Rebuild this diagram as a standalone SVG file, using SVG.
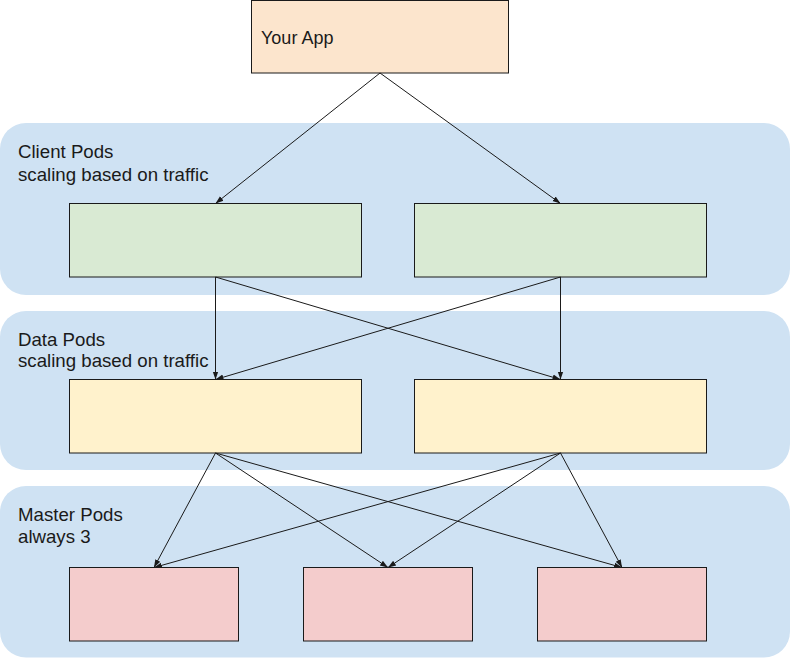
<svg xmlns="http://www.w3.org/2000/svg" width="790" height="663" viewBox="0 0 790 663">
<style>
.panel{fill:#cfe2f3;stroke:none}
.box{stroke:#1a1a1a;stroke-width:1}
.lbl{font-family:"Liberation Sans",Arial,sans-serif;font-size:18.67px;fill:#1a1a1a}
.edge{stroke:#1a1a1a;stroke-width:1;fill:none;marker-end:url(#ah)}
</style>
<defs>
<marker id="ah" viewBox="0 0 10 10" refX="10" refY="5" markerWidth="8" markerHeight="8" markerUnits="userSpaceOnUse" orient="auto">
<path d="M0,1.5 L10,5 L0,8.5 z" fill="#1a1a1a"/>
</marker>
</defs>
<rect width="790" height="663" fill="#ffffff"/>
<g id="client-pool">
<rect class="panel" x="0" y="123" width="790" height="172" rx="26"/>
<text class="lbl" x="18" y="158">Client Pods</text>
<text class="lbl" x="18" y="181">scaling based on traffic</text>
</g>
<g id="data-pool">
<rect class="panel" x="0" y="311" width="790" height="159" rx="26"/>
<text class="lbl" x="18" y="346">Data Pods</text>
<text class="lbl" x="18" y="367">scaling based on traffic</text>
</g>
<g id="master-pool">
<rect class="panel" x="0" y="486" width="790" height="171.5" rx="26"/>
<text class="lbl" x="18" y="521">Master Pods</text>
<text class="lbl" x="18" y="543">always 3</text>
</g>
<g id="app">
<rect class="box" x="251.5" y="0.5" width="257" height="72.5" fill="#fce5cd"/>
<text x="261" y="43.5" style="font-family:'Liberation Sans',Arial,sans-serif;font-size:18px;fill:#1a1a1a">Your App</text>
</g>
<g id="client1"><rect class="box" x="69.5" y="203.5" width="292" height="73.5" fill="#d9ead3"/></g>
<g id="client2"><rect class="box" x="414.5" y="203.5" width="292" height="73.5" fill="#d9ead3"/></g>
<g id="data1"><rect class="box" x="69.5" y="379.5" width="292" height="73.5" fill="#fff2cc"/></g>
<g id="data2"><rect class="box" x="414.5" y="379.5" width="292" height="73.5" fill="#fff2cc"/></g>
<g id="master1"><rect class="box" x="69.5" y="567.5" width="169" height="73.5" fill="#f4cccc"/></g>
<g id="master2"><rect class="box" x="303.5" y="567.5" width="169" height="73.5" fill="#f4cccc"/></g>
<g id="master3"><rect class="box" x="537.5" y="567.5" width="169" height="73.5" fill="#f4cccc"/></g>
<g id="connectors">
<line class="edge" x1="380" y1="73" x2="215.5" y2="203.5"/>
<line class="edge" x1="380" y1="73" x2="560.5" y2="203.5"/>
<line class="edge" x1="215.5" y1="277" x2="215.5" y2="379.5"/>
<line class="edge" x1="215.5" y1="277" x2="560.5" y2="379.5"/>
<line class="edge" x1="560.5" y1="277" x2="215.5" y2="379.5"/>
<line class="edge" x1="560.5" y1="277" x2="560.5" y2="379.5"/>
<line class="edge" x1="215.5" y1="453" x2="154" y2="567.5"/>
<line class="edge" x1="215.5" y1="453" x2="388" y2="567.5"/>
<line class="edge" x1="215.5" y1="453" x2="622" y2="567.5"/>
<line class="edge" x1="560.5" y1="453" x2="154" y2="567.5"/>
<line class="edge" x1="560.5" y1="453" x2="388" y2="567.5"/>
<line class="edge" x1="560.5" y1="453" x2="622" y2="567.5"/>
</g>
</svg>
